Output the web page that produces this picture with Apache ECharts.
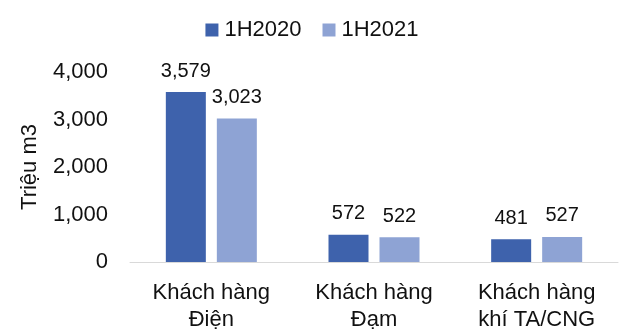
<!DOCTYPE html>
<html>
<head>
<meta charset="utf-8">
<script src="https://cdn.jsdelivr.net/npm/echarts@6/dist/echarts.min.js"></script>
<style>
  html, body { margin: 0; padding: 0; background: #fff; }
  #chart { width: 624px; height: 329px; }
</style>
</head>
<body>
<div id="chart"></div>
<script>
// dữ liệu
var categories = ['Khách hàng\nĐiện', 'Khách hàng\nĐạm', 'Khách hàng\nkhí TA/CNG'];
var h2020 = [3579, 572, 481];
var h2021 = [3023, 522, 527];
var seriesNames = ['1H2020', '1H2021'];

var chart = echarts.init(document.getElementById('chart'));
var font = 'Liberation Sans, Arial, sans-serif';

chart.setOption({
  animation: false,
  textStyle: { fontFamily: font },
  legend: {
    data: seriesNames,
    top: 14,
    left: 'center',
    itemWidth: 13,
    itemHeight: 13,
    itemGap: 21,
    icon: 'rect',
    textStyle: { fontSize: 22, color: '#111', padding: [0, 0, 0, 1] }
  },
  grid: {
    left: 130,
    right: 6,
    top: 72,
    bottom: 67,
    outerBoundsMode: 'none'
  },
  xAxis: {
    type: 'category',
    data: categories,
    axisLine: { lineStyle: { color: '#d9d9d9', width: 1 } },
    axisTick: { show: false },
    axisLabel: {
      fontSize: 22,
      color: '#111',
      lineHeight: 27,
      margin: 17,
      interval: 0
    }
  },
  yAxis: {
    type: 'value',
    min: 0,
    max: 4000,
    interval: 1000,
    name: 'Triệu m3',
    nameLocation: 'middle',
    nameGap: 89,
    nameTextStyle: { fontSize: 22, color: '#111' },
    splitLine: { show: false },
    axisLine: { show: false },
    axisTick: { show: false },
    axisLabel: {
      fontSize: 22,
      color: '#111',
      margin: 22,
      formatter: function (v) { return v.toLocaleString('en-US'); }
    }
  },
  series: [
    {
      name: seriesNames[0],
      type: 'bar',
      data: h2020,
      barWidth: 40,
      barGap: '27.5%',
      itemStyle: { color: '#3E62AC' },
      label: {
        show: true,
        position: 'top',
        distance: 11,
        fontSize: 20,
        color: '#111',
        formatter: function (p) { return p.value.toLocaleString('en-US'); }
      }
    },
    {
      name: seriesNames[1],
      type: 'bar',
      data: h2021,
      barWidth: 40,
      itemStyle: { color: '#8EA3D4' },
      label: {
        show: true,
        position: 'top',
        distance: 11,
        fontSize: 20,
        color: '#111',
        formatter: function (p) { return p.value.toLocaleString('en-US'); }
      }
    }
  ]
});
</script>
</body>
</html>
